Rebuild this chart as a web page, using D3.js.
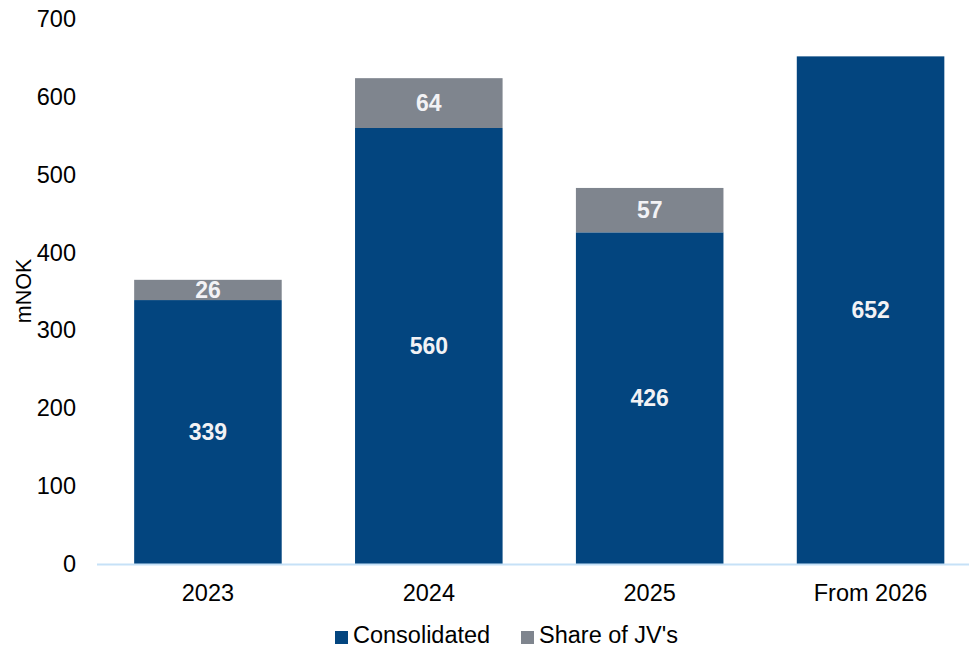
<!DOCTYPE html>
<html>
<head>
<meta charset="utf-8">
<script src="https://cdn.jsdelivr.net/npm/d3@7"></script>
<style>
  html, body { margin: 0; padding: 0; background: #fff; }
  svg { display: block; font-family: "Liberation Sans", Arial, sans-serif; }
</style>
</head>
<body>
<svg id="chart" width="969" height="649"></svg>
<script>
// Investment profile per period, in mNOK
const categories = ["2023", "2024", "2025", "From 2026"];
const consolidated = [339, 560, 426, 652];
const shareOfJVs = [26, 64, 57, 0];
const yTicks = [0, 100, 200, 300, 400, 500, 600, 700];
const seriesNames = ["Consolidated", "Share of JV's"];

const colors = { "Consolidated": "#03457f", "Share of JV's": "#7f858e" };

const svg = d3.select("#chart");

const rows = categories.map((c, i) => ({
  category: c,
  "Consolidated": consolidated[i],
  "Share of JV's": shareOfJVs[i]
}));

const stacked = d3.stack().keys(seriesNames)(rows);

const x = d3.scaleBand()
  .domain(categories)
  .range([97.5, 981])
  .paddingInner(0.332)
  .paddingOuter(0.166);

const y = d3.scaleLinear().domain([0, 700]).range([564, 19]);

// Value axis (labels only)
const yAxis = d3.axisLeft(y).tickValues(yTicks).tickSize(0).tickPadding(0);
const gy = svg.append("g").attr("transform", "translate(76,0)").call(yAxis);
gy.select(".domain").remove();
gy.selectAll("text")
  .attr("font-size", 23.5)
  .attr("fill", "#000")
  .attr("font-family", "Liberation Sans, Arial, sans-serif");

// Axis title
svg.append("text")
  .attr("transform", "translate(31,291) rotate(-90)")
  .attr("text-anchor", "middle")
  .attr("font-size", 21.5)
  .attr("fill", "#000")
  .text("mNOK");

// Bars
const layers = svg.append("g").selectAll("g")
  .data(stacked)
  .join("g")
  .attr("fill", d => colors[d.key]);

layers.selectAll("rect")
  .data(d => d.map(v => ({ key: d.key, v })))
  .join("rect")
  .filter(d => d.v[1] - d.v[0] > 0)
  .attr("x", d => x(d.v.data.category))
  .attr("width", x.bandwidth())
  .attr("y", d => y(d.v[1]))
  .attr("height", d => y(d.v[0]) - y(d.v[1]));

// Segment value labels
layers.selectAll("text")
  .data(d => d.map(v => ({ key: d.key, v })).filter(e => e.v[1] - e.v[0] > 0))
  .join("text")
  .attr("x", d => x(d.v.data.category) + x.bandwidth() / 2)
  .attr("y", d => (y(d.v[0]) + y(d.v[1])) / 2)
  .attr("dy", "0.36em")
  .attr("text-anchor", "middle")
  .attr("font-size", 23)
  .attr("font-weight", "bold")
  .attr("fill", "#f2f2f5")
  .text(d => d.v[1] - d.v[0]);

// Category axis
const xAxis = d3.axisBottom(x).tickSize(0).tickPadding(20);
const gx = svg.append("g").attr("transform", "translate(0,564)").call(xAxis);
gx.select(".domain").remove();
gx.selectAll("text")
  .attr("font-size", 23.5)
  .attr("fill", "#000")
  .attr("font-family", "Liberation Sans, Arial, sans-serif");

svg.append("line")
  .attr("x1", 97).attr("x2", 969)
  .attr("y1", 564.5).attr("y2", 564.5)
  .attr("stroke", "#c6e1f7")
  .attr("stroke-width", 2);

// Legend
const legendItems = [
  { name: "Consolidated", x: 335 },
  { name: "Share of JV's", x: 521 }
];
const legend = svg.append("g").selectAll("g")
  .data(legendItems)
  .join("g")
  .attr("transform", d => `translate(${d.x},631)`);
legend.append("rect")
  .attr("width", 13).attr("height", 13)
  .attr("fill", d => colors[d.name]);
legend.append("text")
  .attr("x", 18).attr("y", 12)
  .attr("font-size", 23.5)
  .attr("fill", "#000")
  .text(d => d.name);
</script>
</body>
</html>
